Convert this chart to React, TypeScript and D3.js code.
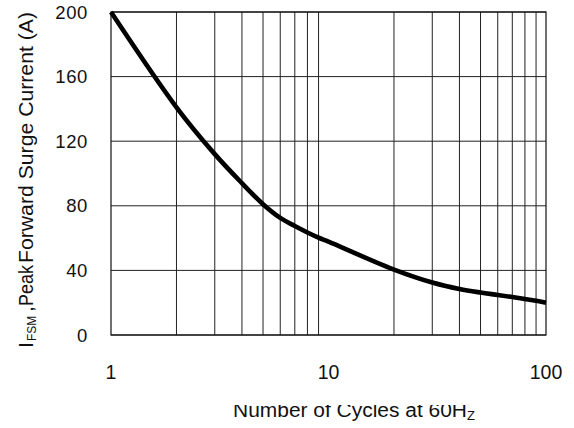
import React from 'react';
import * as d3 from 'd3';

// surge curve
const cycles = [1, 2, 3, 4, 5, 6, 7, 8, 9, 10, 20, 30, 40, 50, 60, 70, 80, 90, 100];
const current = [200, 141, 112, 94, 81, 72.5, 67.5, 63.5, 60.3, 57.8, 40.5, 32.5, 28.5, 26.3, 24.8, 23.5, 22.3, 21.2, 20];

const yTicks = [0, 40, 80, 120, 160, 200];
const xTickLabels = [1, 10, 100];

const W = 574;
const H = 428;
const margin = { left: 111, right: 28, top: 12, bottom: 93 };

const App: React.FC = () => {
  const x = d3.scaleLog().domain([1, 100]).range([margin.left, W - margin.right]);
  const y = d3.scaleLinear().domain([0, 200]).range([H - margin.bottom, margin.top]);

  const minor: number[] = [];
  for (const dec of [1, 10]) for (let k = 2; k <= 9; k++) minor.push(k * dec);

  const pts = cycles.map((c, i) => [c, current[i]] as [number, number]);
  const line = d3.line<[number, number]>()
    .x(d => x(d[0]))
    .y(d => y(d[1]))
    .curve(d3.curveCatmullRom.alpha(0.5));

  const font = '"Liberation Sans", Arial, sans-serif';
  const [x0, x1] = x.range();
  const [yb, yt] = y.range();

  return (
    <svg width={W} height={H} style={{ position: 'absolute', left: 0, top: 0 }} fontFamily={font}>
      <defs>
        <clipPath id="xtitle-clip">
          <rect x={0} y={405} width={W} height={30} />
        </clipPath>
      </defs>
      <rect width={W} height={H} fill="#fff" />
      {/* grid */}
      {minor.map(v => (
        <line key={'v' + v} x1={x(v)} x2={x(v)} y1={yt} y2={yb} stroke="#222" strokeWidth={1} />
      ))}
      {yTicks.map(v => (
        <line key={'h' + v} x1={x0} x2={x1} y1={y(v)} y2={y(v)} stroke="#222" strokeWidth={1} />
      ))}
      <rect x={x0} y={yt} width={x1 - x0} height={yb - yt} fill="none" stroke="#111" strokeWidth={1.2} />
      {/* curve */}
      <path d={line(pts) || ''} fill="none" stroke="#000" strokeWidth={4.6} strokeLinejoin="round" />
      {/* y ticks */}
      {yTicks.map(v => (
        <text key={'yl' + v} x={88} y={y(v) + 6.5} textAnchor="end" fontSize={18.5} letterSpacing={0.6} fill="#111">{v}</text>
      ))}
      {xTickLabels.map(v => (
        <text key={'xl' + v} x={x(v)} y={379} textAnchor="middle" fontSize={19.5} fill="#111">{v}</text>
      ))}
      {/* axis titles */}
      <g clipPath="url(#xtitle-clip)">
        <text x={233} y={416.5} fontSize={20} textLength={234} lengthAdjust="spacingAndGlyphs" fill="#111">
          Number of Cycles at 60H
        </text>
        <text x={467} y={419.5} fontSize={13} fill="#111">Z</text>
      </g>
      <g transform="translate(33,348) rotate(-90)" fill="#111">
        <text x={0} y={0} fontSize={21}>I</text>
        <text x={7} y={3} fontSize={12}>FSM</text>
        <text x={36} y={0} fontSize={21}>,</text>
        <text x={42} y={0} fontSize={21} textLength={41} lengthAdjust="spacingAndGlyphs">Peak</text>
        <text x={85} y={0} fontSize={21} textLength={251} lengthAdjust="spacingAndGlyphs">Forward Surge Current (A)</text>
      </g>
    </svg>
  );
};

export default App;
